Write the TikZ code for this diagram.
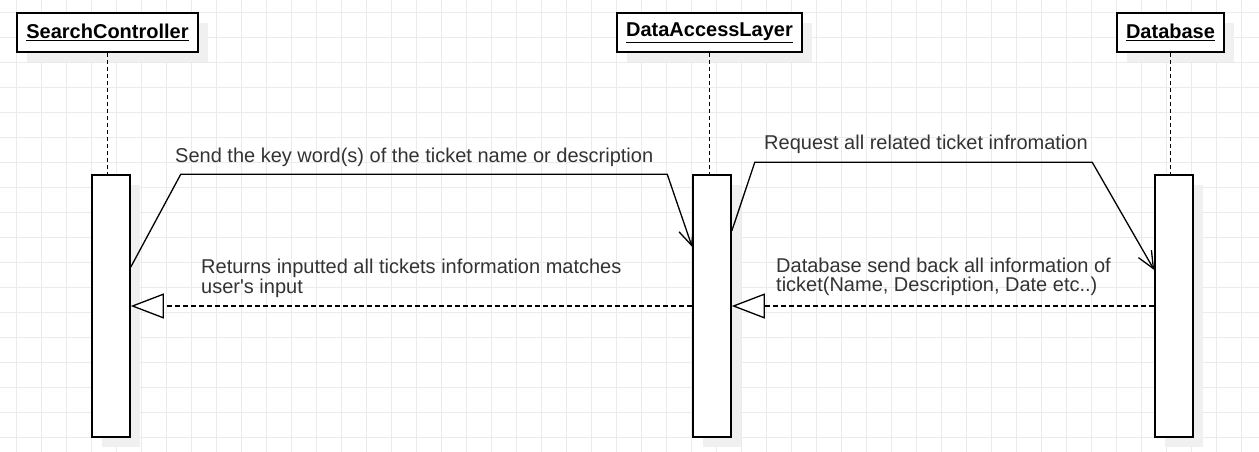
\documentclass[tikz,border=0pt]{standalone}
\usepackage{fontspec}
\setmainfont{Liberation Sans}
\usepackage{xcolor}
\usepackage{tikz}
\usetikzlibrary{arrows.meta}
\usetikzlibrary{shadows}

\definecolor{txtgray}{HTML}{333333}
\definecolor{gridgray}{HTML}{EBEBEB}
\definecolor{shadowgray}{HTML}{F0F0F0}

\tikzset{
	gridline/.style={gridgray,line width=1pt},
	boxshadow/.style={general shadow={fill=shadowgray,shadow xshift=10pt,shadow yshift=-10pt}},
	lifebox/.style={draw,line width=1.6pt,fill=white,boxshadow,inner sep=0pt,
		font=\fontsize{20}{20}\selectfont\bfseries},
	actbar/.style={draw,line width=1.6pt,fill=white,boxshadow,minimum width=38pt,minimum height=262pt,inner sep=0pt},
	lifeline/.style={line width=1.2pt,dash pattern=on 4pt off 3pt},
	msg/.style={line width=1.3pt,-{Straight Barb[length=17pt,width=15pt,line width=1.3pt]}},
	reply/.style={line width=1.2pt,dash pattern=on 5pt off 3pt,-{Triangle[length=33pt,width=25pt,fill=white,line width=1.3pt]}},
	lbl/.style={txtgray,inner sep=0pt,align=left,font=\fontsize{20}{18.5}\selectfont}
}

\begin{document}
\begin{tikzpicture}[x=1pt,y=-1pt]
		\useasboundingbox (0,0) rectangle (1259,452);
		\fill[white] (0,0) rectangle (1259,452);
		\foreach \gx in {0,...,49}
			\draw[gridline] (16.7+25*\gx,0) -- (16.7+25*\gx,452);
		\foreach \gy in {0,...,17}
			\draw[gridline] (0,12.7+25*\gy) -- (1259,12.7+25*\gy);

		% lifelines
		\node[lifebox,minimum width=181pt,minimum height=39pt] (sc) at (107.5,32.5) {\underline{SearchController}};
		\node[lifebox,minimum width=185pt,minimum height=39pt] (dal) at (709.5,32.5) {\underline{DataAccessLayer}};
		\node[lifebox,minimum width=107pt,minimum height=39pt] (db) at (1170.5,32.5) {\underline{Database}};

		\node[actbar] (scAct) at (111,306) {};
		\node[actbar] (dalAct) at (712,306) {};
		\node[actbar] (dbAct) at (1174,306) {};

		\draw[lifeline] (sc) -- (sc |- scAct.north);
		\draw[lifeline] (dal) -- (dal |- dalAct.north);
		\draw[lifeline] (db) -- (db |- dbAct.north);

		% messages
		\draw[msg] ([yshift=39pt]scAct.east) -- ([xshift=50pt]scAct.north east)
			-- ([xshift=-25pt]dalAct.north west) -- ([yshift=59pt]dalAct.west);
		\draw[msg] ([yshift=75pt]dalAct.east) -- ([shift={(23pt,12pt)}]dalAct.north east)
			-- ([shift={(-62pt,12pt)}]dbAct.north west) -- ([yshift=36pt]dbAct.west);
		\draw[reply] (dalAct) -- (scAct);
		\draw[reply] (dbAct) -- (dalAct);

		\node[lbl,anchor=base west] (sendLbl) at (175,162) {Send the key word(s) of the ticket name or description};
		\node[lbl,anchor=base west] (requestLbl) at (764,149) {Request all related ticket infromation};
		\node[lbl,anchor=north west] (returnLbl) at (201,259) {Returns inputted all tickets information matches\\user\textquotesingle s input};
		\node[lbl,anchor=north west] (backLbl) at (776,258) {Database send back all information of\\ticket(Name, Description, Date etc..)};
	\end{tikzpicture}
\end{document}
